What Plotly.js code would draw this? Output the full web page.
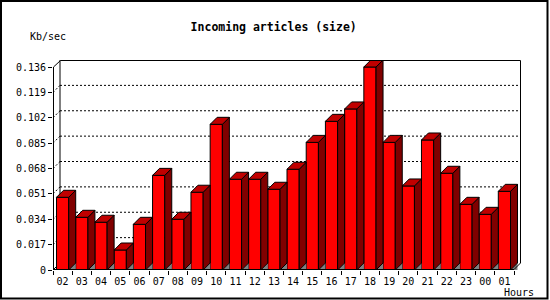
<!DOCTYPE html>
<html><head><meta charset="utf-8">
<script src="https://cdn.plot.ly/plotly-3.0.1.min.js"></script>
<style>html,body{margin:0;padding:0;background:#fff;}#chart{width:550px;height:300px;}</style>
</head><body><div id="chart"></div>
<script>
// ---- data ----
const hours = ['02','03','04','05','06','07','08','09','10','11','12','13','14','15','16','17','18','19','20','21','22','23','00','01'];
const kbPerSec = [0.0487,0.0353,0.0320,0.0134,0.0306,0.0634,0.0340,0.0521,0.0976,0.0608,0.0608,0.0541,0.0675,0.0855,0.0996,0.1079,0.1360,0.0855,0.0563,0.0871,0.0648,0.0440,0.0373,0.0527];
const yTickVals = [0,0.017,0.034,0.051,0.068,0.085,0.102,0.119,0.136];
const yTickText = ['0','0.017','0.034','0.051','0.068','0.085','0.102','0.119','0.136'];
const titleText = 'Incoming articles (size)';
const yUnit = 'Kb/sec';
const xUnit = 'Hours';

// ---- geometry (pixels) ----
const W = 550, H = 300, L = 53, R = 29, T = 60, B = 30;
const plotW = W - L - R, plotH = H - T - B;
const depthX = 7, depthY = 7;
const n = hours.length;
const catPx = (plotW - depthX) / n;
const dxU = depthX / catPx;
const yMaxTick = yTickVals[yTickVals.length - 1];
const perPxY = yMaxTick / (plotH - depthY);
const dyU = depthY * perPxY;
const yTop = plotH * perPxY;
const xLo = -0.5, xFrontHi = n - 0.5, xHi = xFrontHi + dxU;
const halfW = 6.1 / catPx;
const px = x => (x - L) / plotW;
const py = y => (T + plotH - y) / plotH;

const idx = hours.map((_, i) => i);

// polygons built from data values
const sidePoly = {x: [], y: []}, topPoly = {x: [], y: []}, floorPoly = {x: [], y: []};
kbPerSec.forEach((v, i) => {
  const x0 = i + halfW, x1 = x0 + dxU, xl = i - halfW;
  sidePoly.x.push(x0, x1, x1, x0, x0, null);
  sidePoly.y.push(0, dyU, v + dyU, v, 0, null);
  topPoly.x.push(xl, xl + dxU, x1, x0, xl, null);
  topPoly.y.push(v, v + dyU, v + dyU, v, v, null);
  floorPoly.x.push(x0, x1, x1, x0, null);
  floorPoly.y.push(0, 0, dyU, 0, null);
});

const traces = [
  {type: 'scatter', mode: 'lines', x: floorPoly.x, y: floorPoly.y, fill: 'toself', fillcolor: '#808080',
   line: {width: 0, color: 'rgba(0,0,0,0)'}, hoverinfo: 'skip', showlegend: false},
  {type: 'bar', x: idx, y: kbPerSec, width: 2 * halfW,
   marker: {color: '#FF0000', line: {color: '#000000', width: 1}}, hoverinfo: 'skip', showlegend: false},
  {type: 'scatter', mode: 'lines', x: sidePoly.x, y: sidePoly.y, fill: 'toself', fillcolor: '#800000',
   line: {width: 1, color: '#000000'}, hoverinfo: 'skip', showlegend: false},
  {type: 'scatter', mode: 'lines', x: topPoly.x, y: topPoly.y, fill: 'toself', fillcolor: '#C00000',
   line: {width: 1, color: '#000000'}, hoverinfo: 'skip', showlegend: false},
  // empty trace so the boundary-tick axis always has a subplot
  {type: 'scatter', mode: 'lines', x: [], y: [], xaxis: 'x2', yaxis: 'y', hoverinfo: 'skip', showlegend: false}
];

const shapes = [];
const ln = (x0, y0, x1, y1, extra) => Object.assign({type: 'line', xref: 'x', yref: 'y', x0, y0, x1, y1,
  line: {color: '#000000', width: 1}}, extra || {});
// back wall & floor edges (behind bars)
shapes.push(ln(xLo + dxU, dyU, xLo + dxU, yTop, {layer: 'below'}));
shapes.push(ln(xLo, 0, xLo + dxU, dyU, {layer: 'below'}));
yTickVals.slice(1, -1).forEach(v => {
  shapes.push(ln(xLo + dxU, v + dyU, xHi, v + dyU, {layer: 'below', line: {color: '#000', width: 1, dash: '2px,2px'}}));
  shapes.push(ln(xLo, v, xLo + dxU, v + dyU, {layer: 'below', line: {color: '#000', width: 1, dash: '2px,2px'}}));
});
// edge lines in paper coords (not clipped)
const pl = (x0, y0, x1, y1, w) => ({type: 'line', xref: 'paper', yref: 'paper', x0: px(x0), y0: py(y0), x1: px(x1), y1: py(y1),
  line: {color: '#000000', width: w || 1}});
shapes.push(pl(L + depthX + 0.5, T + 0.5, W - R - 0.5, T + 0.5));          // back top
shapes.push(pl(W - R - 0.5, T + 0.5, W - R - 0.5, T + plotH - depthY));    // back right
shapes.push(pl(L + 0.5, T + plotH - 0.5, L + 0.5, T + depthY));           // front y axis
shapes.push(pl(L + 0.5, T + depthY, L + depthX + 0.5, T + 0.5));          // top-left diag
shapes.push(pl(L + 0.5, T + plotH - 0.5, L + n * catPx, T + plotH - 0.5)); // front x axis
shapes.push(pl(L + n * catPx, T + plotH - 0.5, W - R - 0.5, T + plotH - depthY)); // right floor diag
// outer frame
shapes.push({type: 'rect', xref: 'paper', yref: 'paper', x0: px(1), y0: py(1), x1: px(547.5), y1: py(298.5),
  line: {color: '#000000', width: 2}, fillcolor: 'rgba(0,0,0,0)'});

const mono = 'DejaVu Sans Mono, Liberation Mono, monospace';
const layout = {
  width: W, height: H,
  margin: {l: L, r: R, t: T, b: B, pad: 0},
  paper_bgcolor: '#FFFFFF', plot_bgcolor: 'rgba(0,0,0,0)',
  showlegend: false, bargap: 0,
  title: {text: '<b>' + titleText + '</b>', font: {family: mono, size: 11.5, color: '#000'},
    x: 273.7 / W, xref: 'container', xanchor: 'center', y: 1 - 26.7 / H, yref: 'container', yanchor: 'middle'},
  xaxis: {range: [xLo, xHi], tickmode: 'array', tickvals: idx, ticktext: hours, ticks: 'outside', ticklen: 2,
    tickcolor: 'rgba(0,0,0,0)', tickfont: {family: mono, size: 10, color: '#000'},
    showgrid: false, zeroline: false, showline: false, fixedrange: true},
  xaxis2: {range: [xLo, xHi], overlaying: 'x', anchor: 'y', side: 'bottom', tickmode: 'array',
    tickvals: idx.map(i => i - 0.5).concat([xFrontHi]), ticks: 'outside', ticklen: 4, tickcolor: '#000', tickwidth: 1,
    showticklabels: false, showgrid: false, zeroline: false, showline: false, fixedrange: true},
  yaxis: {range: [0, yTop], tickmode: 'array', tickvals: yTickVals, ticktext: yTickText, ticks: 'outside', ticklen: 4,
    tickcolor: '#000', tickwidth: 1, tickfont: {family: mono, size: 10, color: '#000'},
    showgrid: false, zeroline: false, showline: false, fixedrange: true},
  shapes: shapes,
  annotations: [
    {text: yUnit, xref: 'paper', yref: 'paper', x: px(47.5), y: py(37), xanchor: 'center', yanchor: 'middle',
     showarrow: false, font: {family: mono, size: 10, color: '#000'}},
    {text: xUnit, xref: 'paper', yref: 'paper', x: px(519), y: py(292), xanchor: 'center', yanchor: 'middle',
     showarrow: false, font: {family: mono, size: 10, color: '#000'}}
  ]
};

Plotly.newPlot('chart', traces, layout, {staticPlot: true, displayModeBar: false});
</script></body></html>
